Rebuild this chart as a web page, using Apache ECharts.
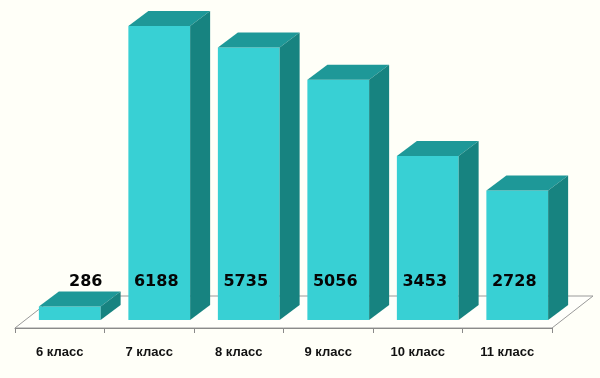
<!DOCTYPE html>
<html>
<head>
<meta charset="utf-8">
<script src="https://cdn.jsdelivr.net/npm/echarts@6/dist/echarts.min.js"></script>
<style>
html,body{margin:0;padding:0;background:#fffff8;}
#chart{width:600px;height:378px;}
</style>
</head>
<body>
<div id="chart"></div>
<script>
const categories = ['6 класс', '7 класс', '8 класс', '9 класс', '10 класс', '11 класс'];
const values = [286, 6188, 5735, 5056, 3453, 2728];

const chart = echarts.init(document.getElementById('chart'), null, {renderer: 'canvas'});

const FRONT = '#38d0d4', TOP = '#1e9898', SIDE = '#178380';
const OX = 10, OY = -8, DX = 20, DY = -15;
const FX = 41, FY = -32;

function renderBar(params, api) {
  const i = api.value(0), v = api.value(1);
  const base = api.coord([i, 0]);
  const top = api.coord([i, v]);
  const bw = api.size([1, 0])[0];
  const w = bw * 0.69;
  const x0 = base[0] - w / 2 + OX, x1 = x0 + w;
  const yb = base[1] + OY, yt = top[1] + OY;
  const ly = base[1] - 46;
  let lx;
  if (yt > ly - 14) lx = (x0 + x1 + DX) / 2 + 6; else lx = (x0 + x1) / 2 - 3;
  return {
    type: 'group',
    children: [
      {type: 'rect', shape: {x: x0, y: yt, width: w, height: yb - yt}, style: {fill: FRONT}},
      {type: 'polygon', shape: {points: [[x0, yt], [x1, yt], [x1 + DX, yt + DY], [x0 + DX, yt + DY]]}, style: {fill: TOP}},
      {type: 'polygon', shape: {points: [[x1, yt], [x1 + DX, yt + DY], [x1 + DX, yb + DY], [x1, yb]]}, style: {fill: SIDE}},
      {type: 'text', x: lx, y: ly, style: {text: String(v), fill: '#050505', font: 'bold 16px "DejaVu Sans"', align: 'center', verticalAlign: 'middle'}}
    ]
  };
}

function renderFloor(params, api) {
  const n = categories.length;
  const bw = api.size([1, 0])[0];
  const a = api.coord([0, 0]);
  const b = api.coord([n - 1, 0]);
  const l = a[0] - bw / 2, r = b[0] + bw / 2, y = a[1];
  return {
    type: 'group',
    children: [
      {type: 'polygon', shape: {points: [[l, y], [l + FX, y + FY], [r + FX, y + FY], [r, y]]}, style: {fill: '#fffffb', stroke: '#9a9a9a', lineWidth: 1}}
    ]
  };
}

chart.setOption({
  backgroundColor: '#fffff8',
  animation: false,
  grid: {left: 15, right: 48, top: 0, bottom: 50},
  xAxis: {
    type: 'category',
    data: categories,
    boundaryGap: true,
    axisLine: {show: true, lineStyle: {color: '#8a8a8a', width: 1}},
    axisTick: {show: true, length: 5, lineStyle: {color: '#8a8a8a'}},
    axisLabel: {margin: 18, color: '#111', fontWeight: 'bold', fontSize: 13, fontFamily: 'Liberation Sans'},
    z: 5
  },
  yAxis: {type: 'value', min: 0, max: 6904, show: false, splitLine: {show: false}},
  series: [
    {type: 'custom', renderItem: renderFloor, data: [[0, 0]], z: 1, silent: true},
    {type: 'custom', renderItem: renderBar, data: values.map((v, i) => [i, v]), z: 2, silent: true}
  ]
});
</script>
</body>
</html>
